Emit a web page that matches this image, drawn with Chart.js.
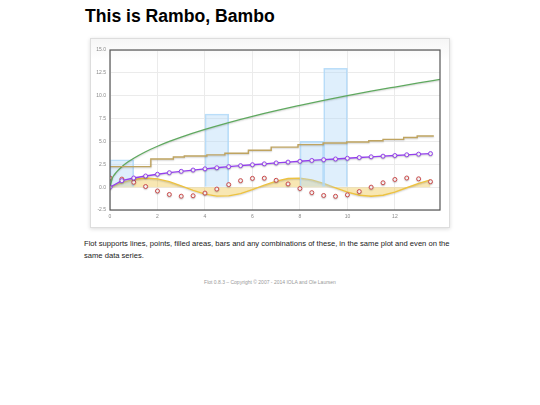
<!DOCTYPE html>
<html>
<head>
<meta charset="utf-8">
<script src="https://cdn.jsdelivr.net/npm/chart.js@4/dist/chart.umd.min.js"></script>
<style>
  body { margin:0; background:#fff; font-family:"Liberation Sans", Arial, sans-serif; }
  #title { position:absolute; left:85px; top:6px; margin:0; font-size:17.6px; font-weight:bold; color:#000; }
  #box { position:absolute; left:90px; top:38px; width:360px; height:190px; box-sizing:border-box;
         border:1px solid #ddd; background:linear-gradient(#f6f6f6 0, #fff 21px);
         box-shadow:0 1px 4px rgba(0,0,0,0.15); }
  #chart { position:absolute; left:90px; top:38px; }
  #desc { position:absolute; left:84px; top:238px; width:375px; margin:0; font-size:7.6px; line-height:11.6px; color:#222; }
  #foot { position:absolute; left:0; top:279px; width:540px; text-align:center; font-size:5px; color:#999; }
</style>
</head>
<body>
<h2 id="title">This is Rambo, Bambo</h2>
<div id="box"></div>
<canvas id="chart" width="360" height="190"></canvas>
<p id="desc">Flot supports lines, points, filled areas, bars and any combinations of these, in the same plot and even on the same data series.</p>
<div id="foot">Flot 0.8.3 &ndash; Copyright &copy; 2007 - 2014 IOLA and Ole Laursen</div>
<script>
// half-step x positions shared by the sine, cosine and sqrt series
var halfSteps = [0,0.5,1,1.5,2,2.5,3,3.5,4,4.5,5,5.5,6,6.5,7,7.5,8,8.5,9,9.5,10,10.5,11,11.5,12,12.5,13,13.5];
var sineVals = [0,0.48,0.84,1,0.91,0.6,0.14,-0.35,-0.76,-0.98,-0.96,-0.71,-0.28,0.22,0.66,0.94,0.99,0.8,0.41,-0.08,-0.54,-0.88,-1,-0.88,-0.54,-0.07,0.42,0.8];
var cosVals = [1,0.88,0.54,0.07,-0.42,-0.8,-0.99,-0.94,-0.65,-0.21,0.28,0.71,0.96,0.98,0.75,0.35,-0.15,-0.6,-0.91,-1,-0.84,-0.48,0,0.48,0.84,1,0.91,0.6];
var rootVals = [0,0.71,1,1.22,1.41,1.58,1.73,1.87,2,2.12,2.24,2.35,2.45,2.55,2.65,2.74,2.83,2.92,3,3.08,3.16,3.24,3.32,3.39,3.46,3.54,3.61,3.67];
var barStarts = [0,4,8,9];
var barVals = [3,8,5,13];
var curveX = [0,0.1,0.2,0.3,0.5,0.75,1,1.5,2,2.5,3,4,5,6,7,8,9,10,11,12,13,13.9];
var curveVals = [0,1,1.41,1.73,2.24,2.74,3.16,3.87,4.47,5,5.48,6.32,7.07,7.75,8.37,8.94,9.49,10,10.49,10.95,11.4,11.79];
var stepX = [0,1.72,2.67,3.13,4.08,4.84,5.83,6.79,7.92,8.98,9.97,10.9,11.5,12.37,12.94,13.64];
var stepVals = [2.24,3.07,3.3,3.4,3.53,3.7,4.04,4.38,4.65,4.82,4.93,5.08,5.23,5.43,5.6,5.6];
var yTicks = [-2.5,0,2.5,5,7.5,10,12.5,15];
var xTicks = [0,2,4,6,8,10,12];

function pts(xs, ys) { return xs.map(function(x,i){ return {x:x, y:ys[i]}; }); }

// flot-like soft shadow under lines, plus the dark frame round the plot
var flotLook = {
  id:'flotLook',
  beforeDatasetDraw: function(chart, args){
    if (args.meta.type !== 'line') return;
    var c = chart.ctx;
    c.save();
    c.shadowColor = 'rgba(0,0,0,0.18)';
    c.shadowOffsetY = 1;
    c.shadowBlur = 1.5;
  },
  afterDatasetDraw: function(chart, args){
    if (args.meta.type !== 'line') return;
    chart.ctx.restore();
  },
  afterDatasetsDraw: function(chart){
    var a = chart.chartArea, c = chart.ctx;
    c.save();
    c.strokeStyle = '#555';
    c.lineWidth = 1.2;
    c.strokeRect(a.left, a.top, a.right - a.left, a.bottom - a.top);
    c.restore();
  }
};

new Chart(document.getElementById('chart'), {
  type:'line',
  data:{
    datasets:[
      {data:pts(halfSteps, sineVals), borderColor:'#edc240', backgroundColor:'rgba(237,194,64,0.4)', fill:'origin', borderWidth:1.4, pointRadius:0, order:6},
      {type:'bar', data:pts(barStarts.map(function(s){return s+0.5;}), barVals), backgroundColor:'rgba(175,216,248,0.4)', borderColor:'rgba(175,216,248,0.85)', borderWidth:1, barPercentage:1, categoryPercentage:1, order:5},
      {data:pts(halfSteps, cosVals), showLine:false, pointRadius:2, pointBorderWidth:1, pointBorderColor:'#cb4b4b', pointBackgroundColor:'#fff', order:4},
      {data:pts(curveX, curveVals), borderColor:'#5fa95f', borderWidth:1.3, pointRadius:0, cubicInterpolationMode:'monotone', order:3},
      {data:pts(halfSteps, rootVals), borderColor:'#9440ed', borderWidth:1.3, pointRadius:2, pointBorderWidth:1, pointBorderColor:'#9440ed', pointBackgroundColor:'#fff', order:2},
      {data:pts(stepX, stepVals), borderColor:'#bfa460', borderWidth:1.4, pointRadius:0, stepped:true, order:1}
    ]
  },
  options:{
    responsive:false,
    animation:false,
    layout:{padding:{left:4, right:10, top:12, bottom:4}},
    plugins:{legend:{display:false}, tooltip:{enabled:false}},
    scales:{
      x:{
        type:'linear', min:0, max:13.9, offset:false,
        afterFit:function(s){ s.height = 14; },
        afterBuildTicks:function(s){ s.ticks = xTicks.map(function(v){ return {value:v}; }); },
        grid:{color:'#ebebeb', lineWidth:1, offset:false, drawTicks:false},
        border:{display:false},
        ticks:{padding:4, color:'#888', font:{size:5, family:'Liberation Sans'}, maxRotation:0, callback:function(v){ return String(v); }}
      },
      y:{
        min:-2.5, max:15,
        afterFit:function(s){ s.width = 16; },
        afterBuildTicks:function(s){ s.ticks = yTicks.map(function(v){ return {value:v}; }); },
        grid:{color:'#ebebeb', lineWidth:1, drawTicks:false},
        border:{display:false},
        ticks:{padding:4, color:'#888', font:{size:5, family:'Liberation Sans'}, callback:function(v){ return v.toFixed(1); }}
      }
    }
  },
  plugins:[flotLook]
});
</script>
</body>
</html>
